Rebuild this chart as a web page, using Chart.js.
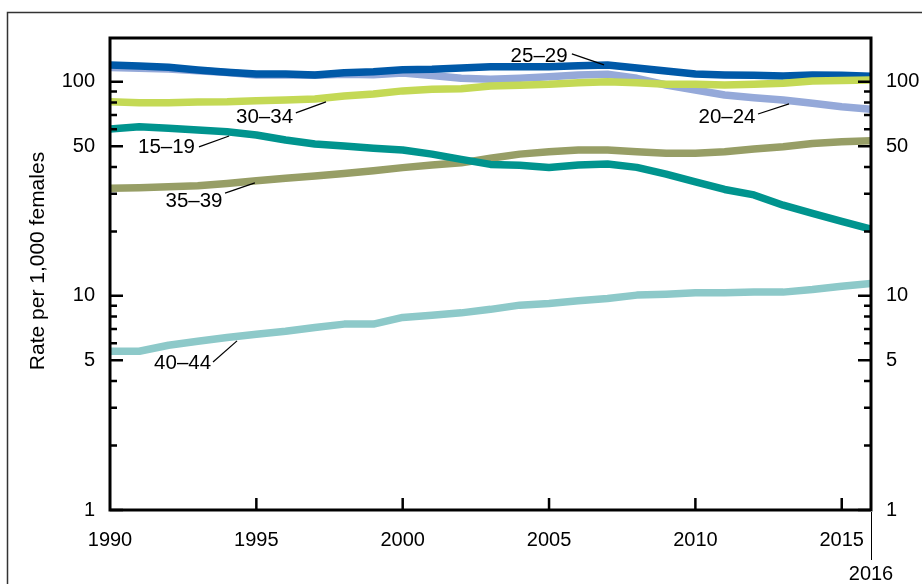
<!DOCTYPE html>
<html>
<head>
<meta charset="utf-8">
<script src="https://cdn.jsdelivr.net/npm/chart.js@4"></script>
<style>
  body { margin:0; background:#fff; }
  #wrap { width:922px; height:584px; }
</style>
</head>
<body>
<div id="wrap"><canvas id="chart"></canvas></div>
<script>
// birth rates by age of mother, per 1,000 females
let years = [1990,1991,1992,1993,1994,1995,1996,1997,1998,1999,2000,2001,2002,2003,2004,2005,2006,2007,2008,2009,2010,2011,2012,2013,2014,2015,2016];
let rate15_19 = [60.1,61.6,60.6,59.5,58.4,56.4,53.4,51.2,50.1,48.9,48.0,45.9,43.4,41.1,40.7,39.8,40.8,41.3,39.8,37.0,34.1,31.4,29.6,26.5,24.3,22.3,20.5];
let rate20_24 = [116.5,115.7,114.7,112.6,110.5,107.5,107.8,107.3,108.4,107.9,109.7,107.0,103.7,102.6,103.7,105.5,107.5,108.3,103.7,96.5,91.5,86.7,84.2,82.1,79.3,76.4,74.3];
let rate25_29 = [119.7,118.4,116.8,113.4,110.7,108.6,108.6,107.5,110.2,111.4,113.8,114.3,115.9,117.5,117.5,117.5,118.8,119.7,115.9,112.2,108.6,107.5,107.1,106.3,107.5,107.1,106.0];
let rate30_34 = [80.6,79.8,79.8,80.4,80.6,81.5,82.1,83.0,85.8,87.6,90.6,92.2,92.8,95.5,96.2,97.2,98.9,100.0,98.9,97.2,97.2,96.5,97.2,98.3,100.8,101.4,101.8];
let rate35_39 = [31.8,32.0,32.3,32.7,33.5,34.5,35.4,36.3,37.3,38.4,39.7,40.8,41.8,43.9,45.9,47.1,48.0,48.0,47.1,46.3,46.3,47.1,48.5,49.7,51.5,52.4,53.0];
let rate40_44 = [5.51,5.51,5.88,6.14,6.39,6.62,6.84,7.12,7.38,7.38,7.93,8.12,8.33,8.65,9.05,9.21,9.48,9.72,10.08,10.18,10.33,10.33,10.41,10.41,10.71,11.1,11.43];

let yTicks = [1,2,3,4,5,6,7,8,9,10,20,30,40,50,60,70,80,90,100];
let yLabelled = [1,5,10,50,100];
let xTicks = [1990,1995,2000,2005,2010,2015,2016];
let yTitle = 'Rate per 1,000 females';

// series labels: text spot and leader line, in data units
let seriesLabels = [
    {text:'25–29', at:[2004.66,132], from:[2005.78,134.9], to:[2006.88,119.8]},
    {text:'30–34', at:[1995.28,68.5], from:[1996.35,71.5], to:[1997.38,80.5]},
    {text:'15–19', at:[1991.93,49.6], from:[1993.04,49.6], to:[1994.07,55.8]},
    {text:'35–39', at:[1992.87,27.7], from:[1993.93,30.2], to:[1994.95,33.7]},
    {text:'40–44', at:[1992.48,4.86], from:[1993.52,4.91], to:[1994.34,6.16]},
    {text:'20–24', at:[2011.08,68.5], from:[2012.14,70.7], to:[2013.20,78.8]},
];

const FONT = 'Liberation Sans';

function pts(arr){ return years.map((y,i)=>({x:y, y:arr[i]})); }
function line(label, arr, color){
    return {label:label, data:pts(arr), borderColor:color, backgroundColor:color,
        borderWidth:7.5, pointRadius:0, tension:0, borderJoinStyle:'round', borderCapStyle:'butt'};
}

let extras = {
    id:'extras',
    beforeDraw(chart){
        let c = chart.ctx;
        c.save();
        c.fillStyle = '#fff';
        c.fillRect(0,0,chart.width,chart.height);
        c.strokeStyle = '#333';
        c.lineWidth = 1.5;
        c.strokeRect(7.5,12.5,chart.width+20,chart.height+20);
        // y axis title
        c.fillStyle = '#000';
        c.font = '21px "'+FONT+'"';
        c.textAlign = 'center';
        c.textBaseline = 'middle';
        c.translate(38,261);
        c.rotate(-Math.PI/2);
        c.fillText(yTitle,0,0);
        c.restore();
    },
    afterDatasetsDraw(chart){
        let c = chart.ctx, a = chart.chartArea;
        let xs = chart.scales.x, ys = chart.scales.y;
        c.save();
        c.strokeStyle = '#000';
        // ticks pointing inward
        c.lineWidth = 2.5;
        yTicks.forEach(v=>{
            let py = ys.getPixelForValue(v);
            let len = yLabelled.includes(v) ? 13 : 7;
            c.beginPath();
            c.moveTo(a.left,py); c.lineTo(a.left+len,py);
            c.moveTo(a.right,py); c.lineTo(a.right-len,py);
            c.stroke();
        });
        xTicks.forEach(v=>{
            if (v===1990 || v===2016) return;
            let px = xs.getPixelForValue(v);
            c.beginPath();
            c.moveTo(px,a.bottom); c.lineTo(px,a.bottom-12);
            c.stroke();
        });
        // plot frame
        c.lineWidth = 3;
        c.strokeRect(a.left,a.top,a.right-a.left,a.bottom-a.top);
        // little line down to the 2016 label
        c.lineWidth = 1;
        let p16 = xs.getPixelForValue(2016);
        c.beginPath();
        c.moveTo(p16+0.5,a.bottom+2); c.lineTo(p16+0.5,a.bottom+50);
        c.stroke();
        // series labels
        c.fillStyle = '#000';
        c.font = '20.5px "'+FONT+'"';
        c.textAlign = 'center';
        c.textBaseline = 'middle';
        seriesLabels.forEach(l=>{
            c.fillText(l.text, xs.getPixelForValue(l.at[0]), ys.getPixelForValue(l.at[1]));
            c.lineWidth = 1.2;
            c.beginPath();
            c.moveTo(xs.getPixelForValue(l.from[0]), ys.getPixelForValue(l.from[1]));
            c.lineTo(xs.getPixelForValue(l.to[0]), ys.getPixelForValue(l.to[1]));
            c.stroke();
        });
        c.restore();
    }
};

let yTickOpts = {
    autoSkip:false,
    padding:7,
    color:'#000',
    font:{family:FONT, size:20},
    callback:(v)=> yLabelled.includes(v) ? String(v) : ''
};

let ctx = document.getElementById('chart').getContext('2d');
let chart = new Chart(ctx,{
    type:'line',
    data:{
        datasets:[
            line('30–34', rate30_34, '#c4d955'),
            line('25–29', rate25_29, '#0059a8'),
            line('20–24', rate20_24, '#95a9d9'),
            line('15–19', rate15_19, '#00948e'),
            line('35–39', rate35_39, '#979e66'),
            line('40–44', rate40_44, '#8dc9c9'),
        ]
    },
    options:{
        animation:false,
        responsive:true,
        maintainAspectRatio:false,
        layout:{padding:{top:38, left:0, right:0, bottom:0}},
        plugins:{
            legend:{display:false},
            tooltip:{enabled:false},
        },
        scales:{
            x:{
                type:'linear',
                min:1990,
                max:2016,
                grid:{display:false},
                border:{display:false},
                afterBuildTicks:(s)=>{ s.ticks = xTicks.map(v=>({value:v})); },
                afterFit:(s)=>{ s.height = 74; },
                ticks:{
                    autoSkip:false,
                    maxRotation:0,
                    padding:5,
                    color:'#000',
                    font:{family:FONT, size:20, lineHeight:'34px'},
                    callback:(v)=> v===2016 ? ['', '2016'] : String(v)
                }
            },
            y:{
                type:'logarithmic',
                position:'left',
                min:1,
                max:160,
                grid:{display:false},
                border:{display:false},
                afterBuildTicks:(s)=>{ s.ticks = yTicks.map(v=>({value:v})); },
                afterFit:(s)=>{ s.width = 110; },
                ticks:yTickOpts
            },
            y2:{
                type:'logarithmic',
                position:'right',
                min:1,
                max:160,
                grid:{display:false},
                border:{display:false},
                afterBuildTicks:(s)=>{ s.ticks = yTicks.map(v=>({value:v})); },
                afterFit:(s)=>{ s.width = 51; },
                ticks:yTickOpts
            }
        }
    },
    plugins:[extras]
});
</script>
</body>
</html>
